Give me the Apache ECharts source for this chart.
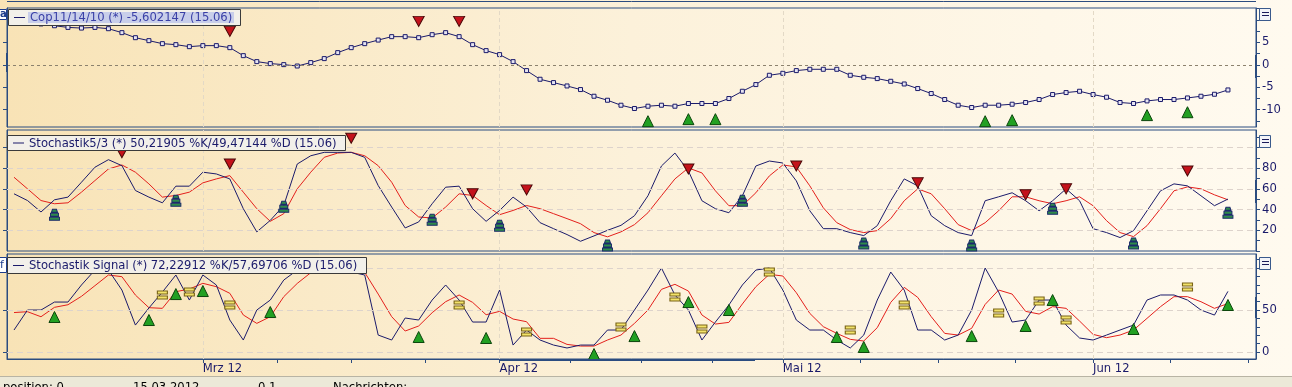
<!DOCTYPE html>
<html><head><meta charset="utf-8">
<script src="https://cdn.jsdelivr.net/npm/echarts@6/dist/echarts.min.js"></script>
<style>html,body{margin:0;padding:0;background:#F8E8C4;overflow:hidden}#c{width:1292px;height:387px}</style>
</head><body><div id="c"></div>
<script>
// ---------- DATA ----------
const dates = [
 '10.02','13.02','14.02','15.02','16.02','17.02','20.02','21.02','22.02','23.02','24.02','27.02','28.02','29.02',
 '01.03','02.03','05.03','06.03','07.03','08.03','09.03','12.03','13.03','14.03','15.03','16.03','19.03','20.03','21.03','22.03','23.03','26.03','27.03','28.03','29.03','30.03',
 '02.04','03.04','04.04','05.04','06.04','09.04','10.04','11.04','12.04','13.04','16.04','17.04','18.04','19.04','20.04','23.04','24.04','25.04','26.04','27.04','30.04',
 '01.05','02.05','03.05','04.05','07.05','08.05','09.05','10.05','11.05','14.05','15.05','16.05','17.05','18.05','21.05','22.05','23.05','24.05','25.05','28.05','29.05','30.05','31.05',
 '01.06','04.06','05.06','06.06','07.06','08.06','11.06','12.06','13.06','14.06','15.06'];
const monthLabels = ['Mrz 12','Apr 12','Mai 12','Jun 12'];

const copValues = [9.8,9.5,9.1,8.7,8.33,8.18,8.33,8.04,7.16,6.04,
 5.38,4.71,4.49,4.04,4.27,4.27,3.82,2.04,0.71,0.27,
 0.04,-0.27,0.49,1.38,2.71,3.82,4.71,5.51,6.27,6.27,
 6.04,6.71,7.16,6.27,4.49,3.16,2.27,0.71,-1.29,-3.22,
 -3.96,-4.71,-5.51,-7.0,-7.89,-9.0,-9.73,-9.22,-9.0,-9.22,
 -8.62,-8.62,-8.62,-7.51,-5.89,-4.4,-2.33,-1.89,-1.29,-1.0,
 -1.0,-1.0,-2.33,-2.78,-3.07,-3.67,-4.27,-5.29,-6.4,-7.73,
 -9.0,-9.51,-9.0,-9.0,-8.78,-8.4,-7.73,-6.62,-6.18,-5.89,
 -6.62,-7.22,-8.4,-8.62,-8.04,-7.73,-7.73,-7.38,-7.0,-6.56,
 -5.60];
const copSellIdx = [16,30,33];
const copSellVal = [7.44,9.67,9.67];
const copBuyIdx = [47,50,52,72,74,84,87];
const copBuyVal = [-12.56,-12.1,-12.1,-12.56,-12.33,-11.2,-10.56];

const stoK = [55.3,48.8,37.7,49.5,52.1,66.5,81.0,88.3,82.5,58.5,
 52.1,46.6,62.7,62.7,76.2,74.5,69.7,40.9,18.5,29.6,
 44.0,84.1,92.1,95.4,95.4,95.4,90.6,63.3,42.5,22.3,
 28.1,45.7,61.7,62.7,40.9,28.7,39.2,52.1,42.5,27.4,
 21.6,15.9,9.4,14.6,20.0,24.8,34.1,53.4,82.2,94.7,
 77.4,48.6,40.9,37.0,53.4,82.2,87.0,85.1,67.8,38.9,
 21.6,21.6,17.8,14.9,24.5,48.6,69.7,63.0,34.1,24.5,
 17.8,14.9,48.6,52.4,56.3,48.6,38.9,48.6,60.1,48.6,
 21.6,17.8,13.0,19.7,38.9,58.2,64.9,63.0,53.4,43.8,
 50.2];
const stoD = [71.3,60.1,48.8,45.7,46.6,56.9,68.1,79.3,83.2,76.2,
 64.9,52.1,53.7,56.9,65.9,69.7,72.9,56.9,40.9,28.7,
 36.1,60.1,76.2,90.6,94.7,95.4,92.1,82.5,66.5,44.0,
 32.9,31.9,42.5,55.3,53.7,44.0,35.1,39.2,44.0,40.9,
 36.1,31.3,26.4,17.8,13.7,18.5,25.5,37.0,53.4,69.7,
 80.3,75.5,58.2,43.8,43.8,56.3,72.6,83.2,81.3,63.0,
 41.8,27.4,20.7,17.8,19.7,31.3,48.6,60.1,55.3,40.9,
 25.5,19.7,27.4,38.9,52.4,52.4,48.6,45.7,48.6,52.4,
 43.8,29.3,17.8,13.9,24.5,40.9,58.2,62.0,60.1,54.3,
 49.5];
const stoSellIdx = [8,16,25,34,38,50,58,67,75,78,87];
const stoSellVal = [95,84.1,109,55.3,59.1,79.3,82.2,65.9,54.3,60.1,77.4];
const stoBuyIdx = [3,12,20,31,36,44,54,63,71,77,83,90];
const stoBuyVal = [35.1,48.6,42.8,30.3,24.5,5.3,48.6,7.2,5.3,40.9,7.2,37];

const sigK = [26.2,50,50,59.5,59.5,79.8,97.6,97.6,73.8,32.1,
 52.4,71.4,91.7,61.9,91.7,79.8,38.1,14.3,50,61.9,
 85.7,97.6,100,100,97.6,95.2,91.7,20.2,14.3,40.5,
 38.1,61.9,79.8,61.9,35.7,35.7,73.8,8.3,26.2,14.3,
 8.3,4.8,8.3,8.3,26.2,26.2,50,73.8,100,67.9,
 50,14.3,35.7,56,79.8,97.6,100,73.8,38.1,26.2,
 26.2,14.3,4.8,20.2,61.9,95.2,73.8,26.2,26.2,14.3,
 20.2,50,100,71.4,35.7,38.1,61.9,61.9,32.1,16.7,
 14.3,20.2,26.2,32.1,61.9,67.9,67.9,61.9,50,44,
 72.2];
const sigD = [47,48,42,53.2,56.3,66.3,79,91.7,89.7,67.8,
 52.8,52,71.8,75,81.8,77.8,69.9,44.1,34.1,42.1,
 65.9,81.7,94.4,99.2,99.2,97.6,94.8,69,42.1,25,
 31,46.8,59.9,67.9,59.1,44.4,48.4,39.3,36.1,16.3,
 16.3,9.1,7.1,7.1,14.3,20.2,34.1,50,74.6,80.6,
 72.6,44.1,33.3,35.3,57.2,77.8,92.5,90.5,70.6,46,
 30.2,22.2,15.1,13.1,29,59.1,77,65.1,42.1,22.2,
 20.2,28.2,56.7,73.8,69,48.4,45.2,54,52,36.9,
 21,17.1,20.2,26.2,40.1,54,65.9,65.9,59.9,52,
 57.7];
const sigBuyIdx = [3,10,12,14,19,30,35,43,46,50,53,61,63,71,75,77,83,90];
const sigBuyVal = [41.7,38.1,69,72.6,47.6,17.9,16.7,-2.4,19,59.5,50,17.9,6,19,31,61.9,27.4,56];
const sigEqIdx = [11,13,16,33,38,45,49,51,56,62,66,73,76,78,87];
const sigEqVal = [67.9,71.4,56,56,23.8,29.8,65.5,27.4,95.2,26.2,56,46.4,60.7,38.1,77.4];

// ---------- STYLE ----------
const NAVY = '#1B1B6B', RED = '#E4201C', BORDER = '#2B4C80', TXT = '#1A1A6A';
const FONT = '"DejaVu Sans", Verdana, sans-serif';
const FS = 11.6;
const grad = () => new echarts.graphic.LinearGradient(0, 0, 1, 0, [
  {offset: 0, color: '#F8E3B6'}, {offset: 0.5, color: '#FCF1DA'}, {offset: 1, color: '#FFFAEF'}]);

const monthStarts = [];
dates.forEach((d, i) => { if (i > 0 && d.slice(3) !== dates[i - 1].slice(3)) monthStarts.push(i); });
const X_MIN = -0.52, X_MAX = 92.08;
const bounds = monthStarts.concat([103]);
const quarterTicks = [];
for (let m = 0; m < monthStarts.length; m++) {
  for (let q = 0; q < 4; q++) {
    const v = monthStarts[m] + q * (bounds[m + 1] - monthStarts[m]) / 4;
    if (v <= X_MAX) quarterTicks.push(v);
  }
}
const pairs = (idx, val) => idx.map((x, k) => [x, val[k]]);
const seq = arr => arr.map((v, i) => [i, v]);
const range = (a, b, s) => { const r = []; for (let v = a; v <= b + 1e-9; v += s) r.push(+v.toFixed(2)); return r; };

const grids = [
  {left: 7, top: 8, width: 1249, height: 119},
  {left: 7, top: 130, width: 1249, height: 121},
  {left: 7, top: 254, width: 1249, height: 105}
].map(g => Object.assign(g, {show: true, borderColor: BORDER, borderWidth: 1, backgroundColor: grad()}));

function xAx(gi, main) {
  const a = {type: 'value', gridIndex: gi, min: X_MIN, max: X_MAX,
    axisLine: {show: false}, axisTick: {show: false}, axisLabel: {show: false}, splitLine: {show: false}};
  if (main) {
    a.axisLine = {show: true, onZero: false, lineStyle: {color: BORDER}};
    a.axisTick = {show: true, customValues: quarterTicks, length: 4, lineStyle: {color: BORDER}};
    a.axisLabel = {show: true, customValues: monthStarts, align: 'left', margin: 4, color: TXT,
      fontFamily: FONT, fontSize: FS, formatter: v => monthLabels[monthStarts.indexOf(Math.round(v))] || ''};
  }
  return a;
}
function yAx(gi, pos, min, max, ticks, labels) {
  return {type: 'value', gridIndex: gi, position: pos, min, max,
    axisLine: {show: true, onZero: false, lineStyle: {color: BORDER}},
    axisTick: {show: true, customValues: ticks, length: 4, lineStyle: {color: BORDER}},
    axisLabel: labels ? {show: true, customValues: labels, margin: 6, color: TXT, fontFamily: FONT, fontSize: FS} : {show: false},
    splitLine: {show: false}};
}

const vLines = monthStarts.map(i => ({xAxis: i, lineStyle: {color: '#E3D9C6', type: [4, 3], width: 1}}));
const hLines = (vals, color, dash) => vals.map(v => ({yAxis: v, lineStyle: {color, type: dash, width: 1}}));
function guide(xi, yi, data) {
  return {type: 'line', xAxisIndex: xi, yAxisIndex: yi, data: [], silent: true, z: 1,
    markLine: {silent: true, symbol: ['none', 'none'], label: {show: false}, animation: false, data}};
}
function line(xi, yi, data, color, extra) {
  return Object.assign({type: 'line', xAxisIndex: xi, yAxisIndex: yi, data: seq(data), silent: true, z: 3,
    showSymbol: false, lineStyle: {color, width: 1}, itemStyle: {color}}, extra || {});
}
function marks(xi, yi, data, symbol, size, fill, stroke, rot, z) {
  return {type: 'scatter', xAxisIndex: xi, yAxisIndex: yi, data, symbol, symbolSize: size, symbolRotate: rot || 0,
    silent: true, z: z || 5, itemStyle: {color: fill, borderColor: stroke, borderWidth: 1, opacity: 1}};
}
const TOWER = 'path://M3,0H7L8,3H2Z M1,4H9V7H1Z M0,8H10V11H0Z';
const EQ = 'path://M0,0H10V3H0Z M0,5H10V8H0Z';
const ZG = 100;

function legend(x, y, w, h, text, hl) {
  const ch = [
    {type: 'rect', z: ZG, shape: {x: x + 0.5, y: y + 0.5, width: w, height: h}, style: {fill: '#F2F0EA', stroke: '#3A3A3A', lineWidth: 1}},
    {type: 'line', z: ZG + 2, shape: {x1: x + 6, y1: y + h / 2 + 0.5, x2: x + 17, y2: y + h / 2 + 0.5}, style: {stroke: NAVY, lineWidth: 1}},
    {type: 'text', z: ZG + 2, x: x + 22, y: y + h / 2 + 1, style: {text, fill: hl ? '#3A40A6' : TXT, fontSize: FS, fontFamily: FONT, verticalAlign: 'middle'}}
  ];
  if (hl) ch.push({type: 'rect', z: ZG + 1, shape: {x: x + 20, y: y + 3, width: w - 26, height: h - 5}, style: {fill: '#C8CEEA'}});
  return {type: 'group', children: ch};
}
function button(y) {
  return {type: 'group', children: [
    {type: 'rect', z: ZG, shape: {x: 1259.5, y: y + 0.5, width: 11, height: 12}, style: {fill: '#F3F4F8', stroke: '#3A5A8C', lineWidth: 1}},
    {type: 'line', z: ZG + 1, shape: {x1: 1262, y1: y + 4.5, x2: 1269, y2: y + 4.5}, style: {stroke: '#1A1A5A', lineWidth: 1}},
    {type: 'line', z: ZG + 1, shape: {x1: 1262, y1: y + 7.5, x2: 1269, y2: y + 7.5}, style: {stroke: '#1A1A5A', lineWidth: 1}}
  ]};
}
const bar = (x, y, w, h) => ({type: 'rect', z: ZG, shape: {x, y, width: w, height: h}, style: {fill: BORDER}});
const sbText = (x, t) => ({type: 'text', z: ZG + 2, x, y: 382, style: {text: t, fill: '#000', fontSize: FS, fontFamily: FONT}});

const option = {
  animation: false,
  backgroundColor: grad(),
  grid: grids,
  xAxis: [xAx(0, false), xAx(1, false), xAx(2, true)],
  yAxis: [
    yAx(0, 'right', -13.85, 12.65, range(-12.5, 12.5, 2.5), [-10, -5, 0, 5]),
    yAx(0, 'left', -13.85, 12.65, [-10, -5, 0, 5], null),
    yAx(1, 'right', 0, 117, range(0, 110, 10), [20, 40, 60, 80]),
    yAx(1, 'left', 0, 117, [20, 40, 60, 80, 100], null),
    yAx(2, 'right', -8.3, 116.7, range(0, 110, 10), [0, 50]),
    yAx(2, 'left', -8.3, 116.7, [0, 50, 100], null)
  ],
  series: [
    guide(0, 0, vLines.concat(hLines([0], '#8C826E', [3, 3]))),
    guide(1, 2, vLines.concat(hLines([20, 40, 60, 80, 100], '#DDD3CC', [6, 4]))),
    guide(2, 4, vLines.concat(hLines([0, 50, 100], '#DDD3CC', [6, 4]))),
    line(0, 0, copValues, NAVY, {showSymbol: true, symbol: 'rect', symbolSize: 4,
      itemStyle: {color: '#E6E4F2', borderColor: NAVY, borderWidth: 1}}),
    marks(0, 0, pairs(copSellIdx, copSellVal), 'triangle', [11, 10], '#C4121B', '#4A0808', 180),
    marks(0, 0, pairs(copBuyIdx, copBuyVal), 'triangle', [11, 11], '#22A022', '#0C450C'),
    line(1, 2, stoD, RED),
    line(1, 2, stoK, NAVY),
    marks(1, 2, pairs(stoSellIdx, stoSellVal), 'triangle', [11, 10], '#C4121B', '#4A0808', 180),
    marks(1, 2, pairs(stoBuyIdx, stoBuyVal), TOWER, [10, 11], '#2E8B4A', '#1B2A6B'),
    line(2, 4, sigD, RED),
    line(2, 4, sigK, NAVY),
    marks(2, 4, pairs(sigBuyIdx, sigBuyVal), 'triangle', [11, 11], '#22A022', '#0C450C'),
    marks(2, 4, pairs(sigEqIdx, sigEqVal), EQ, [10, 8], '#F2E36A', '#7A6418')
  ],
  graphic: [
    {type: 'line', z: ZG, shape: {x1: 7, y1: 1.5, x2: 1256, y2: 1.5}, style: {stroke: BORDER, lineWidth: 1}},
    legend(8, 9, 232, 16, 'Cop11/14/10 (*) -5,602147 (15.06)', true),
    legend(7, 135, 338, 15, 'Stochastik5/3 (*) 50,21905 %K/49,47144 %D (15.06)', false),
    legend(7, 257, 359, 16, 'Stochastik Signal (*) 72,22912 %K/57,69706 %D (15.06)', false),
    button(8), button(135), button(257),
    {type: 'rect', z: ZG, shape: {x: -3.5, y: 9.5, width: 10, height: 10}, style: {fill: '#FFFFFF', stroke: '#1C3C8C', lineWidth: 1}},
    {type: 'text', z: ZG + 1, x: 0, y: 14.5, style: {text: 'a', fill: '#1C3C8C', fontSize: 10, fontWeight: 'bold', fontFamily: FONT, verticalAlign: 'middle'}},
    {type: 'rect', z: ZG, shape: {x: -3.5, y: 257.5, width: 10, height: 15}, style: {fill: '#FFFFFF', stroke: '#1C3C8C', lineWidth: 1}},
    {type: 'text', z: ZG + 1, x: 0, y: 265, style: {text: 'f', fill: '#1C3C8C', fontSize: 11, fontFamily: FONT, verticalAlign: 'middle'}},
    bar(1255, 55, 2, 23), bar(1255, 180, 2, 23), bar(1255, 297, 2, 21), bar(6, 53, 2, 19), bar(500, 359, 255, 2),
    {type: 'rect', z: ZG, shape: {x: 0, y: 377, width: 1292, height: 10}, style: {fill: '#ECE9D8'}},
    {type: 'line', z: ZG + 1, shape: {x1: 0, y1: 376.5, x2: 1292, y2: 376.5}, style: {stroke: '#B8B4A4', lineWidth: 1}},
    sbText(3, 'position: 0'), sbText(133, '15.03.2012'), sbText(258, '0.1'), sbText(333, 'Nachrichten:')
  ]
};
const chart = echarts.init(document.getElementById('c'), null, {renderer: 'canvas', width: 1292, height: 387});
chart.setOption(option);
</script>
</body></html>
